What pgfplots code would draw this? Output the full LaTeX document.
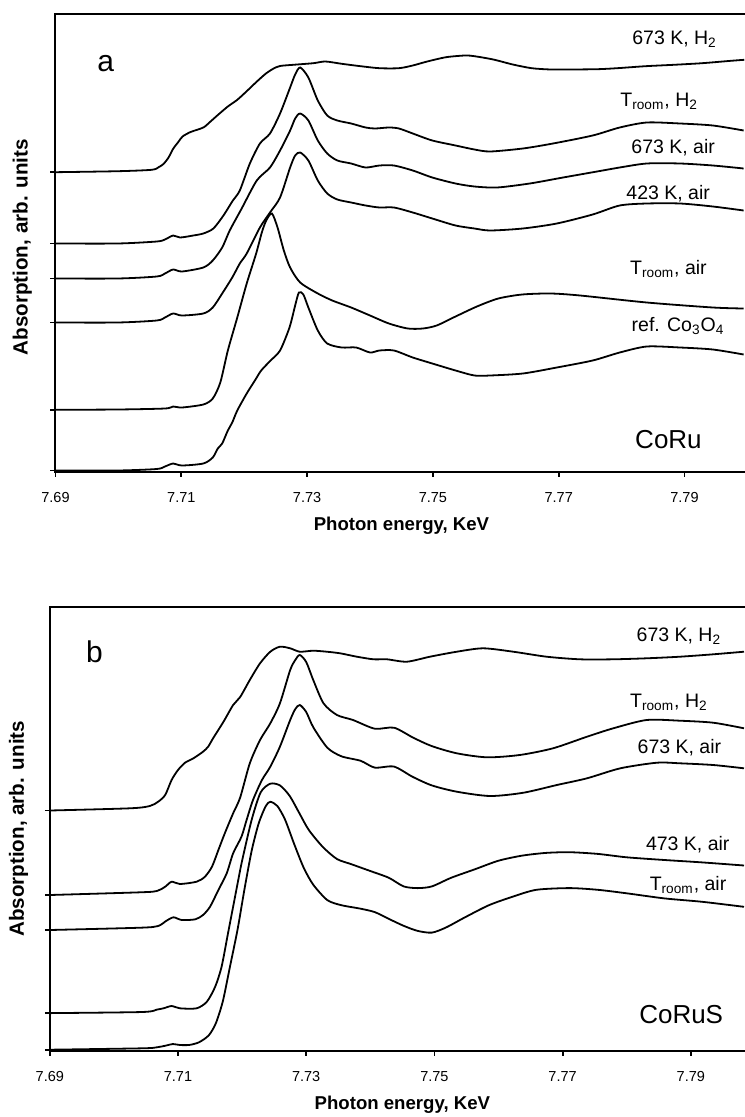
\documentclass[border=0pt]{standalone}
\usepackage{fontspec}
\setmainfont{Liberation Sans}
\usepackage{pgfplots}
\pgfplotsset{compat=1.18}
\pgfplotsset{
  myaxis/.style={
    scale only axis,
    xmin=7.69, xmax=7.80, ymin=0,
    xtick={7.69,7.71,7.73,7.75,7.77,7.79},
    xticklabels={7.69,7.71,7.73,7.75,7.77,7.79},
    xtick pos=bottom, ytick pos=left,
    tick align=outside,
    major tick length=2.5pt,
    yticklabels={},
    axis line style={line width=1pt},
    every tick/.style={black, line width=0.9pt},
    tick label style={font=\fontsize{7.25}{8}\selectfont},
    xticklabel style={yshift=-4.5pt},
    /pgf/number format/assume math mode=true,
    xlabel={Photon energy, KeV},
    ylabel={Absorption, arb. units},
    xlabel style={font=\bfseries\fontsize{9.3}{11}\selectfont, at={(axis description cs:0.5,0)}, anchor=center, yshift=-27pt},
  },
}
\tikzset{
  curve/.style={black, line width=0.9pt, smooth, tension=0.45},
  lab/.style={anchor=base east, font=\fontsize{9.75}{11}\selectfont, inner sep=0pt},
}
\begin{document}
\begin{tikzpicture}[x=1pt,y=1pt]
% ---------------- panel a ----------------
\begin{axis}[myaxis, at={(27.75pt,-235.75pt)}, anchor=south west,
  width=345.95pt, height=228.75pt, ymax=457.5,
  ytick={1,61.7,149,193,228,299.3},
  ylabel style={font=\bfseries\fontsize{10.3}{12}\selectfont, at={(axis description cs:-0.048,0.49)}, anchor=center}]
% 673 K, H2
\addplot[curve] coordinates {
(7.6900,299.3) (7.7000,300.3) (7.7053,301.7) (7.7064,304.3) (7.7072,307.7) (7.7080,314.3)
(7.7087,322.7) (7.7095,329.3) (7.7102,335) (7.7114,339.3) (7.7125,341.7) (7.7136,344.3)
(7.7147,350.3) (7.7159,357) (7.7174,365) (7.7189,371.7) (7.7204,380.3) (7.7219,389.3)
(7.7234,397.7) (7.7246,402.7) (7.7257,405.5) (7.7280,406.8) (7.7310,408.3) (7.7329,410)
(7.7355,407.7) (7.7385,405.3) (7.7415,403.3) (7.7446,403.3) (7.7468,406) (7.7491,410)
(7.7521,414.3) (7.7551,416) (7.7566,415.3) (7.7596,412) (7.7627,407) (7.7657,403.3)
(7.7687,402) (7.7717,402) (7.7762,402.3) (7.7793,403.3) (7.7838,405.3) (7.7883,406.7)
(7.7928,408.3) (7.7974,410.7) (7.7995,411.7)};
% T_room, H2
\addplot[curve] coordinates {
(7.6900,228) (7.6999,228) (7.7061,230) (7.7074,232) (7.7087,236) (7.7098,234)
(7.7119,236) (7.7135,238) (7.7151,243) (7.7167,256) (7.7182,271) (7.7193,281)
(7.7209,308) (7.7225,328) (7.7241,338) (7.7257,358) (7.7273,384) (7.7281,397)
(7.7289,404) (7.7302,394) (7.7317,371) (7.7332,356) (7.7348,351) (7.7370,348)
(7.7393,344) (7.7408,343) (7.7430,344) (7.7446,343) (7.7468,338) (7.7499,331)
(7.7536,326) (7.7566,322) (7.7591,320) (7.7643,323) (7.7691,328) (7.7754,336)
(7.7797,344) (7.7840,349) (7.7893,348) (7.7945,346) (7.7994,341)};
% 673 K, air
\addplot[curve] coordinates {
(7.6900,193) (7.6999,193) (7.7061,195) (7.7074,198) (7.7087,202) (7.7101,200)
(7.7135,204) (7.7150,211) (7.7165,224) (7.7177,241) (7.7196,263) (7.7220,291)
(7.7241,304) (7.7257,321) (7.7273,341) (7.7281,353) (7.7289,358) (7.7302,351)
(7.7317,331) (7.7332,318) (7.7348,311) (7.7370,308) (7.7393,304) (7.7415,306)
(7.7438,306) (7.7468,301) (7.7499,294) (7.7536,288) (7.7566,285) (7.7602,284)
(7.7654,288) (7.7707,294) (7.7761,300) (7.7797,304) (7.7840,308) (7.7893,308)
(7.7945,306) (7.7994,303)};
% 423 K, air
\addplot[curve] coordinates {
(7.6900,149) (7.6999,149) (7.7061,151) (7.7074,154) (7.7087,158) (7.7101,156)
(7.7135,158) (7.7150,164) (7.7165,178) (7.7181,194) (7.7193,208) (7.7204,218)
(7.7225,244) (7.7241,259) (7.7257,274) (7.7273,304) (7.7281,316) (7.7289,319)
(7.7302,311) (7.7317,291) (7.7332,278) (7.7348,272) (7.7370,269) (7.7393,266)
(7.7415,264) (7.7438,264) (7.7468,259) (7.7499,253) (7.7536,246) (7.7566,243)
(7.7591,241) (7.7643,243) (7.7697,248) (7.7754,257) (7.7797,266) (7.7840,268)
(7.7893,268) (7.7945,265) (7.7994,261)};
% T_room, air
\addplot[curve] coordinates {
(7.6900,61.7) (7.6999,62) (7.7074,63) (7.7087,65) (7.7101,64) (7.7135,67)
(7.7150,73) (7.7162,89) (7.7174,121) (7.7189,154) (7.7204,188) (7.7219,218)
(7.7228,239) (7.7235,251) (7.7244,258) (7.7253,244) (7.7263,221) (7.7273,204)
(7.7289,189) (7.7317,178) (7.7340,171) (7.7370,164) (7.7400,156) (7.7430,148)
(7.7460,143) (7.7484,143) (7.7506,146) (7.7536,155) (7.7570,165) (7.7604,173)
(7.7642,177) (7.7687,178) (7.7734,176) (7.7840,169) (7.7945,164) (7.7994,163)};
% ref. Co3O4
\addplot[curve] coordinates {
(7.6900,1) (7.6999,1) (7.7061,2.5) (7.7074,5) (7.7087,8) (7.7101,6)
(7.7135,8) (7.7150,14) (7.7158,23) (7.7165,28) (7.7174,41) (7.7181,49)
(7.7189,61) (7.7204,78) (7.7217,91) (7.7227,101) (7.7242,111) (7.7257,121)
(7.7272,144) (7.7281,166) (7.7287,179) (7.7294,177) (7.7302,164) (7.7317,141)
(7.7332,128) (7.7355,124) (7.7378,124) (7.7400,119) (7.7415,121) (7.7438,121)
(7.7468,114) (7.7499,108) (7.7536,101) (7.7566,96) (7.7591,96) (7.7643,98)
(7.7697,104) (7.7754,111) (7.7797,119) (7.7840,125) (7.7893,124) (7.7945,122)
(7.7994,117)};
\node[lab] at (axis cs:7.7952,426.5) {673 K, H\textsubscript{2}};
\node[lab] at (axis cs:7.7922,364.5) {T\textsubscript{room}, H\textsubscript{2}};
\node[lab] at (axis cs:7.7949,318) {673 K, air};
\node[lab] at (axis cs:7.7941,271.5) {423 K, air};
\node[lab] at (axis cs:7.7936,197) {T\textsubscript{room}, air};
\node[lab] at (axis cs:7.7964,140) {ref. Co\textsubscript{3}O\textsubscript{4}};
\node[anchor=base east, inner sep=0pt, font=\fontsize{13}{15}\selectfont] at (axis cs:7.7928,23) {CoRu};
\node[anchor=base west, inner sep=0pt, font=\fontsize{15}{17}\selectfont] at (axis cs:7.6966,400) {a};
\end{axis}
% ---------------- panel b ----------------
\begin{axis}[myaxis, at={(24.9pt,-525.35pt)}, anchor=south west,
  width=352.55pt, height=221.85pt, ymax=443.7,
  ytick={1,37.6,120.7,155.7,240.2},
  ylabel style={font=\bfseries\fontsize{10.3}{12}\selectfont, at={(axis description cs:-0.0445,0.5)}, anchor=center}]
% 673 K, H2
\addplot[curve] coordinates {
(7.6900,240.2) (7.7025,242.4) (7.7056,244.7) (7.7069,249) (7.7080,255.7) (7.7090,270.7)
(7.7100,280.7) (7.7111,288) (7.7124,292.4) (7.7139,299) (7.7147,304) (7.7155,312.7)
(7.7171,329) (7.7186,345.7) (7.7197,353.7) (7.7212,370.7) (7.7228,387.4) (7.7244,399)
(7.7259,404) (7.7275,402.4) (7.7290,399) (7.7311,400) (7.7332,399) (7.7353,397.4)
(7.7379,394) (7.7405,391.4) (7.7426,391.4) (7.7457,389) (7.7493,394) (7.7535,399)
(7.7576,402.4) (7.7623,399) (7.7675,394) (7.7727,391.4) (7.7779,391.4) (7.7831,392.4)
(7.7883,394) (7.7935,396.4) (7.7983,399)};
% T_room, H2
\addplot[curve] coordinates {
(7.6900,155.7) (7.7041,158.4) (7.7067,159.7) (7.7080,164) (7.7090,169) (7.7103,166.7)
(7.7129,169) (7.7142,174) (7.7153,184) (7.7163,200.7) (7.7173,217.4) (7.7186,237.4)
(7.7197,253.2) (7.7212,287.4) (7.7228,310.7) (7.7244,327.4) (7.7259,347.4) (7.7275,380.7)
(7.7283,390.7) (7.7290,395.7) (7.7300,388.7) (7.7311,370.7) (7.7327,347.4) (7.7348,335.7)
(7.7373,330.7) (7.7407,322) (7.7437,323) (7.7467,313) (7.7496,304.6)
(7.7535,297.4) (7.7582,293.4) (7.7633,295.7) (7.7685,302.4) (7.7738,314) (7.7779,322.4)
(7.7831,330.7) (7.7883,330) (7.7935,328) (7.7983,322.4)};
% 673 K, air
\addplot[curve] coordinates {
(7.6900,120.7) (7.7041,123) (7.7069,124.7) (7.7082,130) (7.7093,133.4) (7.7106,130.7)
(7.7127,131.4) (7.7139,135.7) (7.7150,144) (7.7163,160.7) (7.7176,177.4) (7.7186,197.4)
(7.7199,214) (7.7207,230.7) (7.7217,250.7) (7.7231,270.7) (7.7244,284) (7.7259,304)
(7.7275,330.7) (7.7283,341.7) (7.7290,345.7) (7.7300,338.7) (7.7311,323.5) (7.7333,303)
(7.7355,294.4) (7.7385,289.9) (7.7407,283.1) (7.7437,284.1) (7.7466,273.9) (7.7496,265.3)
(7.7535,259) (7.7587,254.7) (7.7639,258) (7.7691,265.7) (7.7738,272.4) (7.7790,282.4)
(7.7847,288) (7.7883,287.4) (7.7935,285.7) (7.7983,282.4)};
% 473 K, air
\addplot[curve] coordinates {
(7.6900,37.6) (7.7044,38.7) (7.7067,41.1) (7.7078,42.5) (7.7090,44.7) (7.7103,42.4)
(7.7129,42.4) (7.7145,49) (7.7158,64) (7.7168,84) (7.7178,117.4) (7.7186,144)
(7.7194,170.7) (7.7200,190) (7.7215,231.1) (7.7229,258.4) (7.7244,267) (7.7259,265.3)
(7.7274,255) (7.7289,237.9) (7.7304,220.8) (7.7326,203.7) (7.7348,191.7) (7.7370,186.6)
(7.7400,179.7) (7.7429,172.9) (7.7452,164.3) (7.7474,162.6) (7.7496,164.3) (7.7526,172.9)
(7.7563,181.4) (7.7600,190) (7.7637,195.1) (7.7674,197.8) (7.7711,198.5) (7.7755,196.8)
(7.7800,193.4) (7.7859,190.7) (7.7918,188.3) (7.7983,185.2)};
% T_room, air
\addplot[curve] coordinates {
(7.6900,1) (7.7044,2.4) (7.7067,3.4) (7.7081,5.1) (7.7092,6.7) (7.7103,5.7)
(7.7118,5.8) (7.7133,8.5) (7.7148,15.4) (7.7159,27.4) (7.7170,49.6) (7.7181,83.8)
(7.7193,121.5) (7.7204,162.6) (7.7215,200.2) (7.7226,227.6) (7.7237,244.7) (7.7244,248.9)
(7.7255,244.7) (7.7267,231.1) (7.7281,207.1) (7.7296,183.1) (7.7311,166) (7.7333,150.6)
(7.7355,145.5) (7.7385,142) (7.7407,138.6) (7.7429,131.8) (7.7452,124.9) (7.7474,119.8)
(7.7496,118.1) (7.7518,123.2) (7.7548,133.5) (7.7585,145.5) (7.7622,154) (7.7659,160.9)
(7.7711,162.6) (7.7755,160.9) (7.7800,157.4) (7.7859,152.3) (7.7918,148.9) (7.7983,143.9)};
\node[lab] at (axis cs:7.7948,409) {673 K, H\textsubscript{2}};
\node[lab] at (axis cs:7.7927,343.4) {T\textsubscript{room}, H\textsubscript{2}};
\node[lab] at (axis cs:7.7948,297.4) {673 K, air};
\node[lab] at (axis cs:7.7961,200.7) {473 K, air};
\node[lab] at (axis cs:7.7956,160) {T\textsubscript{room}, air};
\node[anchor=base east, inner sep=0pt, font=\fontsize{13}{15}\selectfont] at (axis cs:7.7951,27.4) {CoRuS};
\node[anchor=base west, inner sep=0pt, font=\fontsize{15}{17}\selectfont] at (axis cs:7.6956,388.5) {b};
\end{axis}
\pgfresetboundingbox
\path (0pt,0pt) rectangle (372pt,-558.5pt);
\end{tikzpicture}
\end{document}
